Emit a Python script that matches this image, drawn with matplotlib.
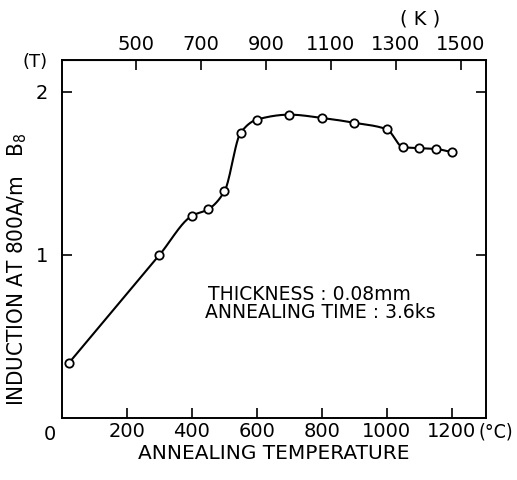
import numpy as np
import matplotlib
matplotlib.use("Agg")
import matplotlib.pyplot as plt

plt.rcParams['font.family'] = ['DejaVu Sans']
plt.rcParams['mathtext.default'] = 'regular'

# annealing temperature (C) and induction at 800 A/m (T)
temp_c = [20, 300, 400, 450, 500, 550, 600, 700, 800, 900, 1000, 1050, 1100, 1150, 1200]
b8 = [0.335, 1.00, 1.24, 1.28, 1.39, 1.75, 1.83, 1.86, 1.84, 1.81, 1.77, 1.66, 1.655, 1.65, 1.63]

xticks_c = [200, 400, 600, 800, 1000, 1200]
xticks_k = [500, 700, 900, 1100, 1300, 1500]
yticks = [1, 2]


def pchip(x, y, xs):
    # monotone cubic curve through the measured points (just for the line)
    x = np.asarray(x, float)
    y = np.asarray(y, float)
    h = np.diff(x)
    d = np.diff(y) / h
    m = np.zeros_like(y)
    for i in range(1, len(x) - 1):
        if d[i - 1] * d[i] > 0:
            w1 = 2 * h[i] + h[i - 1]
            w2 = h[i] + 2 * h[i - 1]
            m[i] = (w1 + w2) / (w1 / d[i - 1] + w2 / d[i])
    m[0] = d[0]
    m[-1] = d[-1]
    idx = np.clip(np.searchsorted(x, xs) - 1, 0, len(x) - 2)
    t = (xs - x[idx]) / h[idx]
    h00 = 2 * t**3 - 3 * t**2 + 1
    h10 = t**3 - 2 * t**2 + t
    h01 = -2 * t**3 + 3 * t**2
    h11 = t**3 - t**2
    return (h00 * y[idx] + h10 * h[idx] * m[idx]
            + h01 * y[idx + 1] + h11 * h[idx] * m[idx + 1])


fig = plt.figure(figsize=(5.17, 4.8), dpi=100)
ax = fig.add_axes([0.12, 0.129, 0.82, 0.746])

xs = np.linspace(temp_c[0], temp_c[-1], 600)
ax.plot(xs, pchip(temp_c, b8, xs), color='black', lw=1.5, zorder=2)
ax.plot(temp_c, b8, 'o', ms=6, mfc='white', mec='black', mew=1.3, zorder=3)

ax.set_xlim(0, 1305)
ax.set_ylim(0, 2.195)

ax.set_xticks(xticks_c)
ax.set_yticks(yticks)
ax.tick_params(direction='in', length=7, width=1.2, labelsize=14,
               right=True)
ax.tick_params(axis='x', pad=3)
ax.tick_params(axis='y', pad=10)
for s in ax.spines.values():
    s.set_linewidth(1.4)

ax.text(-38, -0.045, '0', fontsize=14, ha='center', va='top', transform=ax.transData)
ax.text(0.983, -0.04, '(°C)', fontsize=14, ha='left', va='center',
        transform=ax.transAxes, fontstretch='condensed')

sec = ax.secondary_xaxis('top', functions=(lambda c: c + 273, lambda k: k - 273))
sec.set_xticks(xticks_k)
sec.tick_params(direction='in', length=7, width=1.2, labelsize=14, pad=4)
fig.text(0.812, 0.96, '( K )', fontsize=14, ha='center', va='center')

ax.set_xlabel('ANNEALING TEMPERATURE', fontsize=14.5, labelpad=2)
ax.set_ylabel('INDUCTION AT 800A/m   B$_8$', fontsize=16, fontstretch='condensed')
ax.yaxis.set_label_coords(-0.078, 0.416)
fig.text(0.068, 0.871, '(T)', fontsize=13, ha='center', va='center')

ax.text(0.345, 0.345, 'THICKNESS : 0.08mm', fontsize=13.5, transform=ax.transAxes,
        va='center')
ax.text(0.337, 0.295, 'ANNEALING TIME : 3.6ks', fontsize=13.5, transform=ax.transAxes,
        va='center')

fig.savefig('out.png', dpi=100)
